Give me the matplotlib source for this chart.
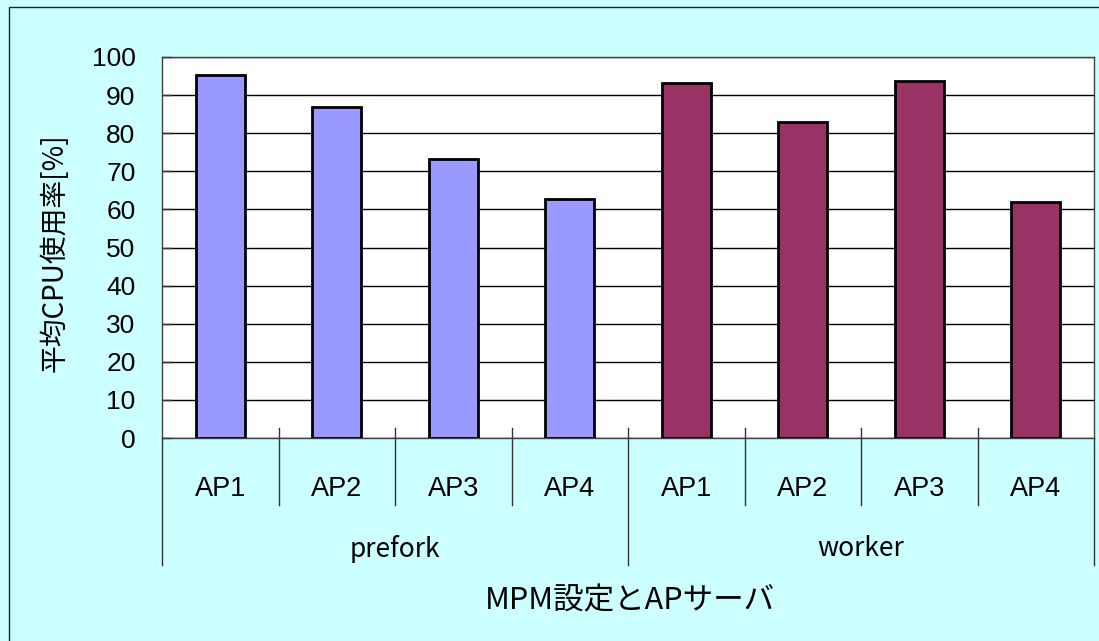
import matplotlib
matplotlib.use("Agg")
import matplotlib.pyplot as plt
from matplotlib.lines import Line2D
from matplotlib.patches import Rectangle

# Average CPU usage per AP server, grouped by MPM setting
groups = ["prefork", "worker"]
servers = ["AP1", "AP2", "AP3", "AP4"]
prefork_cpu = [95.3, 87.0, 73.2, 62.8]
worker_cpu = [93.2, 83.0, 93.8, 62.0]
y_ticks = [0, 10, 20, 30, 40, 50, 60, 70, 80, 90, 100]

ylabel = "平均CPU使用率[%]"
xlabel = "MPM設定とAPサーバ"

W, H = 1099, 641
fig = plt.figure(figsize=(W / 100, H / 100), dpi=100)
fig.patch.set_facecolor("#CCFFFF")

# chart-area border (left/top edges visible)
fig.patches.append(Rectangle((9 / W, -0.1), 1.2, (H - 7) / H + 0.1,
                             transform=fig.transFigure, fill=False,
                             edgecolor="#222222", lw=1.0))

left, right, top, bottom = 162, 1094, 57, 438
ax = fig.add_axes([left / W, (H - bottom) / H, (right - left) / W, (bottom - top) / H])
ax.set_facecolor("white")

jp = ["Noto Sans CJK JP", "DejaVu Sans"]
latin = ["Liberation Sans", "DejaVu Sans"]

n = len(servers)
x_pref = list(range(n))
x_work = [n + i for i in range(n)]
bw = 1 / 2.4
ax.bar(x_pref, prefork_cpu, width=bw, color="#9999FF", edgecolor="black", lw=2.0, zorder=3)
ax.bar(x_work, worker_cpu, width=bw, color="#993366", edgecolor="black", lw=2.0, zorder=3)

ax.set_xlim(-0.5, 2 * n - 0.5)
ax.set_ylim(0, 100)
ax.set_yticks(y_ticks)
ax.set_yticklabels([str(v) for v in y_ticks], fontfamily=latin, fontsize=19)
ax.tick_params(axis="y", direction="in", length=7, width=1, color="#333333", pad=19)
ax.set_xticks([])
ax.yaxis.grid(True, color="black", lw=1.0, zorder=1)
for s in ax.spines.values():
    s.set_color("#404040")
    s.set_linewidth(1.0)

# two-level category axis
tr = ax.get_xaxis_transform()
h = bottom - top
y_up = (bottom - 428) / h
y_short = -(505 - bottom) / h
y_long = -(565 - bottom) / h
for i in range(2 * n + 1):
    xpos = i - 0.5
    if i % n == 0:
        y0 = 0 if i in (0, 2 * n) else y_up
        ax.add_line(Line2D([xpos, xpos], [y0, y_long], transform=tr,
                           color="#333333", lw=1.0, clip_on=False))
    else:
        ax.add_line(Line2D([xpos, xpos], [y_up, y_short], transform=tr,
                           color="#333333", lw=1.0, clip_on=False))

y_srv = -(489 - bottom) / h
y_grp = -(549 - bottom) / h
for x, name in zip(x_pref + x_work, servers + servers):
    ax.text(x, y_srv, name, transform=tr, ha="center", va="center",
            fontfamily=latin, fontsize=19.5)
for g, name in enumerate(groups):
    ax.text(g * n + (n - 1) / 2, y_grp, name, transform=tr, ha="center", va="center",
            fontfamily=jp, fontsize=19)

fig.text(55 / W, 1 - 253 / H, ylabel, rotation=90, ha="center", va="center",
         fontfamily=jp, fontsize=20)
fig.text(630 / W, 1 - 601 / H, xlabel, ha="center", va="center",
         fontfamily=jp, fontsize=22)

fig.savefig("out.png", dpi=100, facecolor=fig.get_facecolor())
